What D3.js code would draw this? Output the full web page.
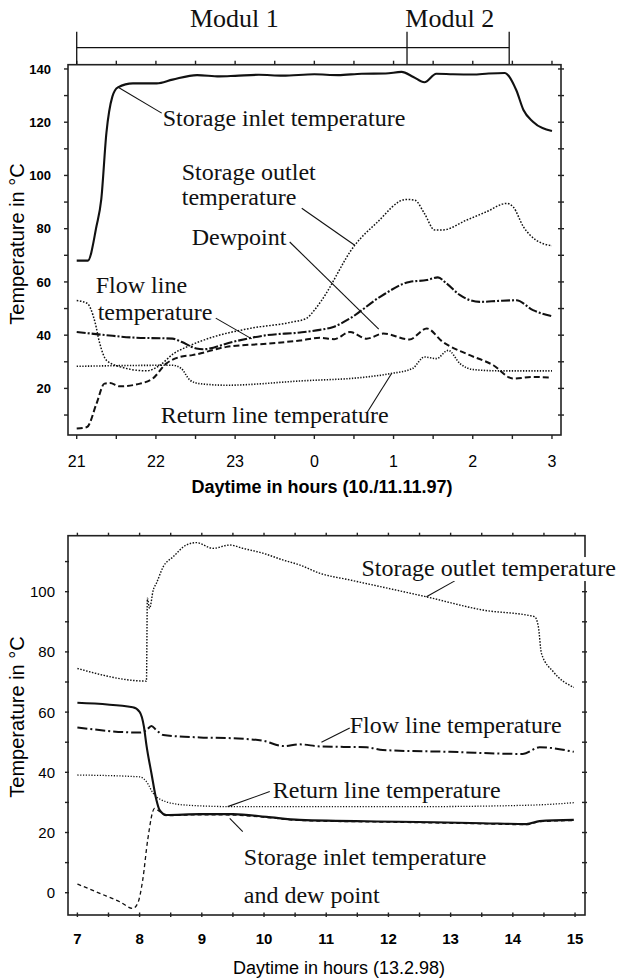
<!DOCTYPE html>
<html><head><meta charset="utf-8">
<script src="https://cdn.jsdelivr.net/npm/d3@7"></script>
<style>body{margin:0;background:#fff}svg{display:block}</style>
</head><body>
<svg id="c" width="621" height="980"></svg>
<script>
// ================= DATA =================
// Chart 1 (10./11.11.97) — x in hours, 24+ means after midnight
const c1XTicks = [21, 22, 23, 24, 25, 26, 27];
const c1XTickLabels = ["21", "22", "23", "0", "1", "2", "3"];
const c1YTicks = [20, 40, 60, 80, 100, 120, 140];
const c1Inlet = [[21.0,68],[21.14,68],[21.25,81],[21.31,91],[21.375,116],[21.45,129.6],[21.52,133.1],[21.71,134.6],
  [22.01,134.6],[22.21,136],[22.52,137.7],[22.8,137.2],[23.0,137.4],[23.3,137.8],[23.6,137.5],[24.0,138.0],[24.3,137.7],
  [24.6,138.2],[24.9,138.3],[25.1,138.9],[25.25,137],[25.39,135],[25.54,138.2],[25.75,138],[26.0,137.9],[26.2,138.3],
  [26.40,138.5],[26.55,132],[26.64,124.6],[26.76,120.2],[27.0,116.7]];
const c1Outlet = [[21.0,53],[21.13,52],[21.23,45],[21.29,37],[21.375,30.6],[21.54,28.2],[21.88,26.6],[22.05,28.7],
  [22.22,33],[22.39,35.6],[22.72,39.3],[23.18,42.5],[23.73,45],[23.90,46.3],[24.0,49.4],[24.09,53],[24.51,73.8],
  [24.78,82],[25.16,91],[25.27,90.7],[25.39,85.7],[25.52,79.5],[25.62,79.5],[25.92,83.2],[26.17,86.3],[26.43,89.5],
  [26.51,88.2],[26.64,80.7],[26.80,75.7],[27.0,73.6]];
const c1Flow = [[21.0,41.2],[21.375,40],[21.71,39.1],[22.21,38.7],[22.32,37.5],[22.51,35],[22.59,34.7],[22.97,37.5],
  [23.40,40],[23.82,41],[24.07,42],[24.23,43],[24.45,46.3],[24.83,54.4],[25.20,60],[25.42,60.7],[25.56,61.7],
  [25.67,59.4],[25.84,55],[26.09,52.5],[26.34,52.9],[26.55,53.1],[26.76,49.4],[27.0,47.1]];
const c1Dew = [[21.0,4.9],[21.13,5.5],[21.25,14.3],[21.35,21.8],[21.42,22],[21.54,20.8],[21.80,21.8],[21.96,23.7],
  [22.13,29.3],[22.30,31.8],[22.46,32.5],[22.89,35.6],[23.40,36.8],[23.82,38],[24.07,39],[24.25,38.5],[24.45,41.2],
  [24.66,38.7],[24.87,40.6],[25.20,38.4],[25.42,42.5],[25.62,37.5],[25.92,33],[26.26,28.7],[26.51,23.7],[26.76,24.3],[26.97,24.1]];
const c1Return = [[21.0,28.3],[22.21,28.7],[22.32,27.5],[22.43,23.1],[22.55,21.8],[22.89,21.2],[23.82,22.8],
  [24.66,24.3],[24.97,25.6],[25.24,27.5],[25.39,31.8],[25.54,31.2],[25.69,34.3],[25.84,29.3],[26.0,27.1],[26.34,26.6],[27.0,26.6]];
const c1ModulBounds = [21.0, 25.17, 26.46];
const c1ModulLabels = ["Modul 1", "Modul 2"];
const c1ModulLabelX = [22.99, 25.71];

// Chart 2 (13.2.98)
const c2XTicks = [7, 8, 9, 10, 11, 12, 13, 14, 15];
const c2YTicks = [0, 20, 40, 60, 80, 100];
const c2Outlet = [[7.0,74.5],[8.11,70.3],[8.125,97.8],[8.16,94.5],[8.22,100.6],[8.27,102.8],[8.38,108.3],[8.54,111.6],
  [8.75,115.5],[8.91,116.3],[9.18,114.4],[9.45,115.5],[9.66,114.4],[9.98,112.8],[10.31,110.5],[10.57,108.9],[10.9,106.1],
  [11.38,103.9],[12.61,98.3],[13.52,93.9],[14.35,91.7],[14.41,88.4],[14.46,79.5],[14.65,73.4],[14.98,68.2]];
const c2Inlet = [[7.0,63.1],[7.89,61.6],[8.0,60.1],[8.07,55.1],[8.11,49],[8.19,39.7],[8.27,30.8],[8.32,27.5],[8.43,25.8],
  [8.97,26.1],[9.5,26.1],[10.04,25.2],[10.57,24.2],[12.18,23.6],[13.52,23.1],[14.22,22.8],[14.43,23.8],[14.98,24.2]];
const c2Dew = [[7.0,2.9],[7.36,-0.2],[7.68,-3],[7.89,-5.2],[7.97,-3.5],[8.05,4.2],[8.13,17.5],[8.24,28],[8.32,27],
  [8.43,25.6],[8.97,25.9],[9.5,25.8],[10.04,25.0],[10.57,24.0],[12.18,23.4],[13.52,22.9],[14.22,22.6],[14.43,23.6],[14.98,24.0]];
const c2Flow = [[7.0,54.9],[8.0,53.2],[8.11,54],[8.19,55.4],[8.27,54],[8.38,52.4],[8.97,51.6],[9.5,51.3],[9.98,50.5],
  [10.31,48.7],[10.57,49.3],[10.9,48.6],[11.65,48.3],[11.91,47.4],[12.99,46.8],[14.16,46.1],[14.43,48.3],[14.98,46.8]];
const c2Return = [[7.0,39.1],[8.0,38.5],[8.11,36.9],[8.22,33],[8.43,30.2],[8.75,29.1],[9.5,28.6],[10.9,28.6],
  [12.5,28.6],[14.3,29.1],[14.98,29.9]];

// ================= DRAWING =================
const svg = d3.select("#c");
const SERIF = "'Liberation Serif','Times New Roman',serif";
const SANS = "'Liberation Sans',Arial,sans-serif";
const INK = "#111";

function panel(o) {
  const x = d3.scaleLinear().domain(o.xDomain).range([o.left, o.right]);
  const y = d3.scaleLinear().domain(o.yDomain).range([o.bottom, o.top]);
  const g = svg.append("g");
  const line = d3.line().x(d => x(d[0])).y(d => y(d[1])).curve(d3.curveMonotoneX);
  o.series.forEach(s => {
    g.append("path").datum(s.data).attr("fill", "none").attr("stroke", INK)
      .attr("stroke-width", s.w).attr("stroke-dasharray", s.dash || null)
      .attr("stroke-linejoin", "round").attr("d", line);
  });
  // frame
  g.append("rect").attr("x", o.left).attr("y", o.top).attr("width", o.right - o.left)
    .attr("height", o.bottom - o.top).attr("fill", "none").attr("stroke", "#222").attr("stroke-width", 1.6);
  const tk = g.append("g").attr("stroke", "#222").attr("stroke-width", 1.4);
  const xs = d3.range(o.xTicks[0], o.xTicks[o.xTicks.length - 1] + 0.25, 0.5);
  const ys = d3.range(Math.ceil(o.yDomain[0] / 10) * 10, o.yDomain[1], 10);
  tk.selectAll(null).data(xs).join("line").attr("x1", d => x(d)).attr("x2", d => x(d))
    .attr("y1", o.bottom + o.tb[0]).attr("y2", o.bottom + o.tb[1]);
  tk.selectAll(null).data(xs).join("line").attr("x1", d => x(d)).attr("x2", d => x(d))
    .attr("y1", o.top + o.tt[0]).attr("y2", o.top + o.tt[1]);
  tk.selectAll(null).data(ys).join("line").attr("y1", d => y(d)).attr("y2", d => y(d))
    .attr("x1", o.left + o.tl[0]).attr("x2", o.left + o.tl[1]);
  tk.selectAll(null).data(ys).join("line").attr("y1", d => y(d)).attr("y2", d => y(d))
    .attr("x1", o.right + o.tr[0]).attr("x2", o.right + o.tr[1]);
  // tick labels
  g.append("g").selectAll("text").data(o.xTicks).join("text")
    .attr("x", d => x(d)).attr("y", o.xLabelY).attr("text-anchor", "middle")
    .attr("font-family", SANS).attr("font-size", o.xLabelSize).attr("font-weight", o.xLabelWeight)
    .text((d, i) => o.xLabels ? o.xLabels[i] : d);
  g.append("g").selectAll("text").data(o.yTicks).join("text")
    .attr("x", o.yLabelX).attr("y", d => y(d)).attr("dy", "0.36em").attr("text-anchor", "end")
    .attr("font-family", SANS).attr("font-size", o.yLabelSize).attr("font-weight", o.yLabelWeight)
    .text(d => d);
  // axis titles
  g.append("text").attr("transform", `translate(${o.yTitleX},${o.yTitleY}) rotate(-90)`)
    .attr("text-anchor", "middle").attr("font-family", SANS).attr("font-size", 20).text("Temperature in °C");
  g.append("text").attr("x", o.xTitleX).attr("y", o.xTitleY).attr("text-anchor", "middle")
    .attr("font-family", SANS).attr("font-size", 18).attr("font-weight", o.xTitleWeight).text(o.xTitle);
  // annotations
  o.notes.forEach(n => {
    if (n.leader) g.append("line").attr("x1", x(n.leader[0][0])).attr("y1", y(n.leader[0][1]))
      .attr("x2", x(n.leader[1][0])).attr("y2", y(n.leader[1][1])).attr("stroke", INK).attr("stroke-width", 1.1);
    const t = g.append("text").attr("font-family", SERIF).attr("font-size", 24).attr("fill", INK);
    n.lines.forEach((s, i) => {
      t.append("tspan").attr("x", x(n.at[i][0])).attr("y", y(n.at[i][1])).text(s);
    });
    if (n.bg) {
      const b = t.node().getBBox();
      g.insert("rect", () => t.node()).attr("x", b.x - 2).attr("y", b.y + 2).attr("width", b.width + 4)
        .attr("height", b.height - 2).attr("fill", "#fff");
    }
  });
  return { x, y, g };
}

const p1 = panel({
  xDomain: [20.89, 27.114], yDomain: [2.5, 141.6], left: 68, right: 561, top: 64.7, bottom: 435,
  xTicks: c1XTicks, xLabels: c1XTickLabels, yTicks: c1YTicks,
  tb: [0, 4], tt: [-4, 0], tl: [-4, 0], tr: [-3, 3],
  xLabelY: 467, xLabelSize: 16, xLabelWeight: "normal",
  yLabelX: 51, yLabelSize: 13, yLabelWeight: "bold",
  yTitleX: 24, yTitleY: 244, xTitleX: 322, xTitleY: 493, xTitleWeight: "bold",
  xTitle: "Daytime in hours (10./11.11.97)",
  series: [
    { data: c1Inlet, w: 2.1 },
    { data: c1Outlet, w: 1.5, dash: "1.6,1.6" },
    { data: c1Flow, w: 2.1, dash: "9,2,2,2" },
    { data: c1Dew, w: 2, dash: "6,3" },
    { data: c1Return, w: 1.6, dash: "1.3,1.5" }
  ],
  notes: [
    { lines: ["Storage inlet temperature"], at: [[22.086, 118.6]], leader: [[21.518, 133.2], [22.073, 123.4]] },
    { lines: ["Storage outlet", "temperature"], at: [[22.326, 98.3], [22.326, 88.8]], leader: [[23.841, 87.7], [24.51, 73.8]] },
    { lines: ["Dewpoint"], at: [[22.452, 73.8]], leader: [[23.689, 75.0], [24.813, 42.3]] },
    { lines: ["Flow line", "temperature"], at: [[21.24, 55.8], [21.265, 45.6]], leader: [[22.755, 46.4], [23.21, 38.6]] },
    { lines: ["Return line temperature"], at: [[22.06, 6.9]], leader: [[24.66, 10.7], [24.977, 25.7]] }
  ]
});

// Modul bracket above chart 1
{
  const x = p1.x, g = p1.g;
  const yLine = 47.7, yTop = 31.7, yBot = 64;
  g.append("line").attr("x1", x(c1ModulBounds[0])).attr("x2", x(c1ModulBounds[2]))
    .attr("y1", yLine).attr("y2", yLine).attr("stroke", INK).attr("stroke-width", 1.3);
  g.selectAll(null).data(c1ModulBounds).join("line").attr("x1", d => x(d)).attr("x2", d => x(d))
    .attr("y1", yTop).attr("y2", yBot).attr("stroke", INK).attr("stroke-width", 1.3);
  g.selectAll(null).data(c1ModulLabels).join("text").attr("x", (d, i) => x(c1ModulLabelX[i])).attr("y", 27)
    .attr("text-anchor", "middle").attr("font-family", SERIF).attr("font-size", 26).attr("fill", INK).text(d => d);
}

panel({
  xDomain: [6.849, 15.16], yDomain: [-7.4, 118.6], left: 68, right: 585, top: 535.7, bottom: 915,
  xTicks: c2XTicks, yTicks: c2YTicks,
  tb: [-2.5, 2], tt: [-3, 0], tl: [-3, 1], tr: [-3, 2],
  xLabelY: 944, xLabelSize: 15, xLabelWeight: "bold",
  yLabelX: 55, yLabelSize: 15, yLabelWeight: "normal",
  yTitleX: 24, yTitleY: 717, xTitleX: 339, xTitleY: 974, xTitleWeight: "normal",
  xTitle: "Daytime in hours (13.2.98)",
  series: [
    { data: c2Outlet, w: 1.4, dash: "1.5,1.5" },
    { data: c2Return, w: 1.3, dash: "1.2,1.6" },
    { data: c2Dew, w: 1.3, dash: "4,3" },
    { data: c2Inlet, w: 2.1 },
    { data: c2Flow, w: 2, dash: "10,3,2,3" }
  ],
  notes: [
    { lines: ["Storage outlet temperature"], at: [[11.566, 105.2]], leader: [[13.066, 103.6], [12.611, 98.3]], bg: true },
    { lines: ["Flow line temperature"], at: [[11.378, 53.1]], leader: [[11.378, 54.7], [10.923, 50.0]] },
    { lines: ["Return line temperature"], at: [[10.14, 31.5]], leader: [[10.092, 33.6], [9.416, 28.6]] },
    { lines: ["Storage inlet temperature", "and dew point"], at: [[9.675, 9.2], [9.675, -3.4]], leader: [[9.658, 20.3], [9.449, 24.7]] }
  ]
});
</script>
</body></html>
